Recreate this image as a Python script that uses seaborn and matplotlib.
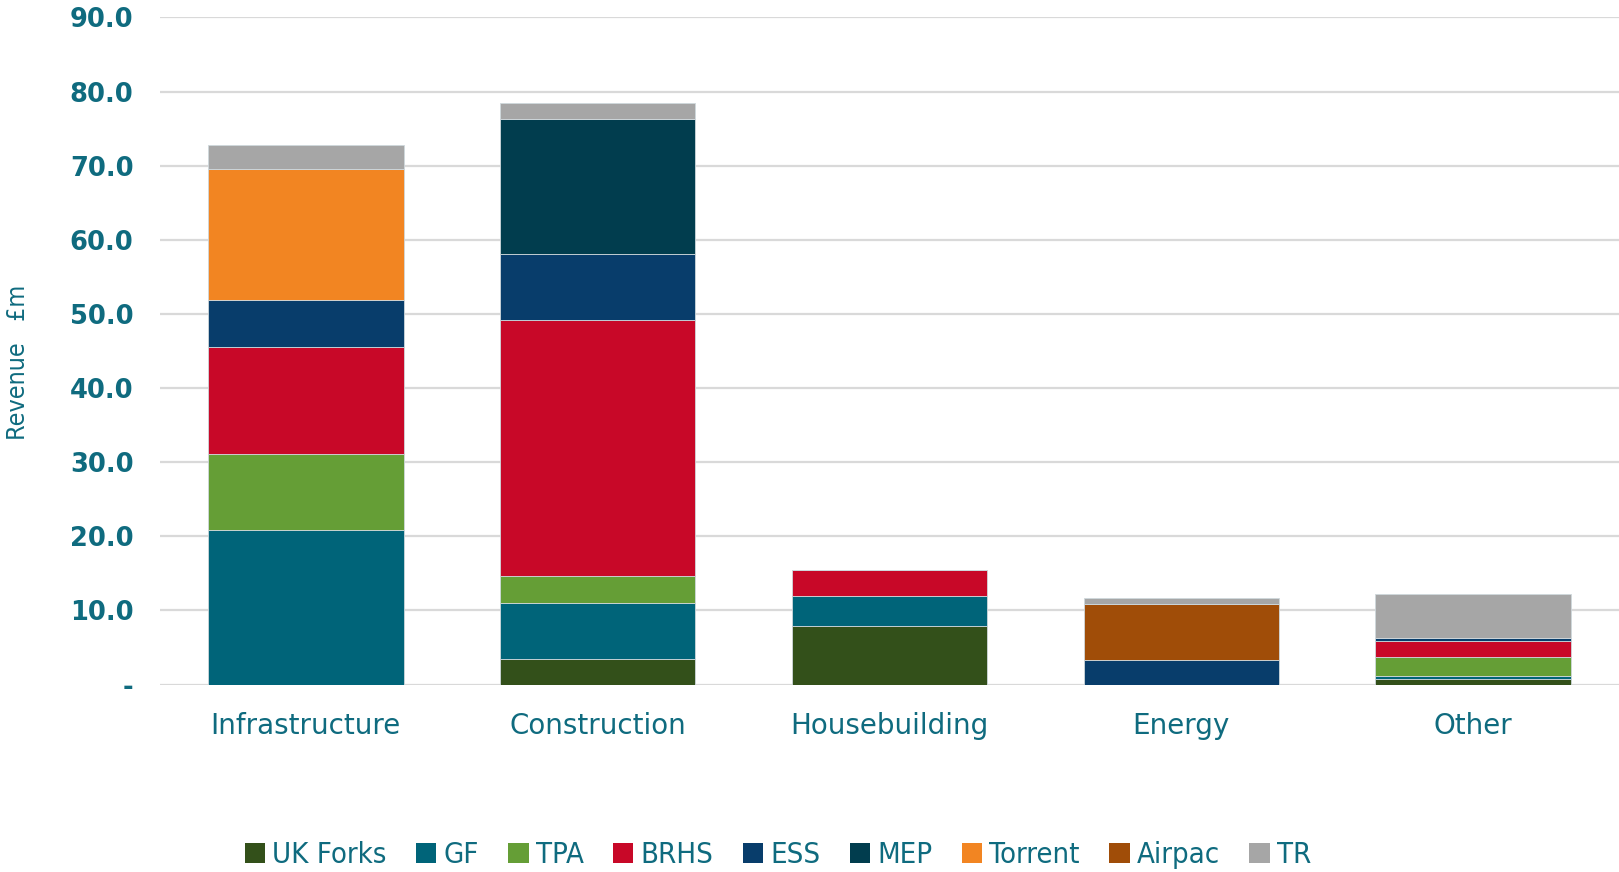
import numpy as np
import pandas as pd
import matplotlib
matplotlib.use("Agg")
import matplotlib.pyplot as plt
import seaborn as sns
from matplotlib.patches import Patch

# ---- data (£m) ----
sectors = ["Infrastructure", "Construction", "Housebuilding", "Energy", "Other"]
companies = ["UK Forks", "GF", "TPA", "BRHS", "ESS", "MEP", "Torrent", "Airpac", "TR"]

uk_forks = [0.0, 3.5, 7.85, 0.0, 0.7]
gf       = [20.9, 7.5, 4.05, 0.0, 0.5]
tpa      = [10.2, 3.6, 0.0, 0.0, 2.55]
brhs     = [14.4, 34.6, 3.6, 0.0, 2.1]
ess      = [6.4, 8.9, 0.0, 3.3, 0.4]
mep      = [0.0, 18.2, 0.0, 0.0, 0.0]
torrent  = [17.6, 0.0, 0.0, 0.0, 0.0]
airpac   = [0.0, 0.0, 0.0, 7.5, 0.0]
tr       = [3.3, 2.1, 0.0, 0.9, 5.9]

colours = ["#33501A", "#006479", "#659E36", "#C80828", "#083D6B",
           "#013D4E", "#F28522", "#A04D08", "#A6A6A6"]

TEXT = "#0F6B7F"

df = pd.DataFrame(
    {"UK Forks": uk_forks, "GF": gf, "TPA": tpa, "BRHS": brhs, "ESS": ess,
     "MEP": mep, "Torrent": torrent, "Airpac": airpac, "TR": tr},
    index=sectors,
)

sns.set_theme(style="white")
plt.rcParams["font.family"] = ["DejaVu Sans"]

fig = plt.figure(figsize=(16.19, 8.72), dpi=100)
ax = fig.add_axes([0.0988, 0.215, 0.9012, 0.765])

# stacked bars, one company at a time
bottom = np.zeros(len(sectors))
for comp, col in zip(companies, colours):
    vals = df[comp].values
    sns.barplot(x=sectors, y=vals, bottom=bottom, color=col, saturation=1,
                ax=ax, width=0.67, edgecolor="#cfd8dc", linewidth=0.6, zorder=3)
    bottom = bottom + vals

ax.set_ylim(0, 90)
ax.set_xlim(-0.5, 4.5)
ax.set_yticks(np.arange(0, 91, 10))
ax.set_yticklabels(["-"] + [f"{v:.1f}" for v in range(10, 91, 10)])
ax.yaxis.grid(True, color="#D9D9D9", linewidth=1.6, zorder=0)
ax.set_axisbelow(True)
for s in ax.spines.values():
    s.set_visible(False)

ax.tick_params(axis="y", length=0, pad=19, labelsize=18.5, labelcolor=TEXT)
for t in ax.get_yticklabels():
    t.set_fontweight("semibold")
ax.tick_params(axis="x", length=0, pad=20, labelsize=20, labelcolor=TEXT)

ax.set_xlabel("")
ax.set_ylabel("")
fig.text(0.011, 0.585, "Revenue   £m", rotation=90, ha="center", va="center",
         fontsize=18, color=TEXT, fontstretch="condensed")

handles = [Patch(facecolor=c, edgecolor="none") for c in colours]
fig.legend(handles, companies, loc="center", bbox_to_anchor=(0.4805, 0.0195),
           ncol=len(companies), frameon=False, handlelength=0.7, handleheight=0.7,
           handletextpad=0.25, columnspacing=1.0,
           prop={"stretch": "condensed", "size": 21},
           labelcolor=TEXT)

fig.savefig("out.png", dpi=100)
